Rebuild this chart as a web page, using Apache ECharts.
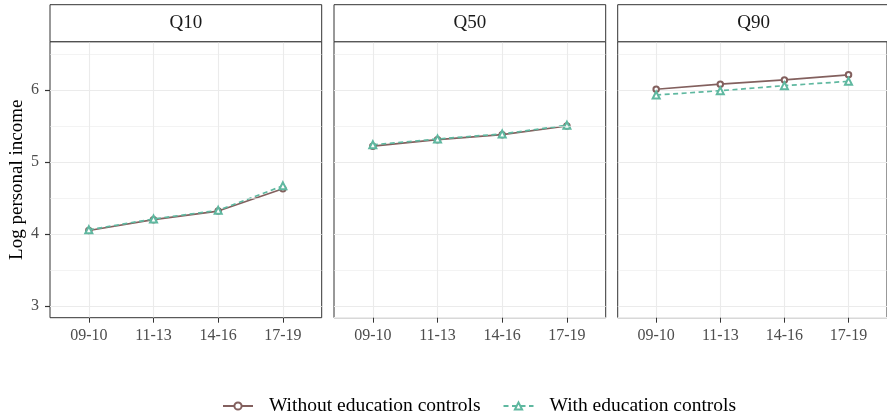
<!DOCTYPE html>
<html>
<head>
<meta charset="utf-8">
<script src="https://cdn.jsdelivr.net/npm/echarts@6/dist/echarts.min.js"></script>
<style>
  html, body { margin: 0; padding: 0; background: #fff; }
  #chart { width: 887px; height: 420px; }
</style>
</head>
<body>
<div id="chart"></div>
<script>
// Period categories on the x axis
const categories = ['09-10', '11-13', '14-16', '17-19'];
// Facet titles (income quantiles)
const panels = ['Q10', 'Q50', 'Q90'];
// Log personal income, model without education controls
const withoutQ10 = [4.05, 4.20, 4.32, 4.63];
const withoutQ50 = [5.22, 5.31, 5.38, 5.50];
const withoutQ90 = [6.01, 6.08, 6.14, 6.21];
// Log personal income, model with education controls
const withQ10 = [4.06, 4.21, 4.33, 4.67];
const withQ50 = [5.24, 5.32, 5.39, 5.51];
const withQ90 = [5.93, 5.99, 6.06, 6.12];
// Y axis ticks and minor grid positions
const yTicks = [3, 4, 5, 6];
const yMinor = [3.5, 4.5, 5.5, 6.5];

const seriesNames = ['Without education controls', 'With education controls'];
const withoutData = [withoutQ10, withoutQ50, withoutQ90];
const withData = [withQ10, withQ50, withQ90];

const FONT = "'Liberation Serif', 'Times New Roman', serif";
const BROWN = '#83605e';
const TEAL = '#5fb8a0';
const GRID_COLOR = '#ebebeb';
const FRAME = '#333333';

const panelLeft = [50, 334, 617.7];
const panelWidth = 271.7;
const panelTop = 41.7;
const panelHeight = 276;
const stripTop = 4.7;
const stripHeight = 37;
const TICK_LEN = 5;
const X_MIN = -0.6, X_MAX = 3.6;

const xIdx = categories.map((c, i) => i);
const toPoints = arr => arr.map((v, i) => [xIdx[i], v]);

const grids = [], xAxes = [], yAxes = [], series = [], graphics = [];

panels.forEach((name, p) => {
  grids.push({
    left: panelLeft[p], top: panelTop, width: panelWidth, height: panelHeight,
    show: true, borderColor: FRAME, borderWidth: 1
  });
  xAxes.push({
    type: 'value', gridIndex: p, min: X_MIN, max: X_MAX,
    axisLine: { show: false, onZero: false },
    axisTick: { show: true, length: TICK_LEN, customValues: xIdx, lineStyle: { color: FRAME, width: 1 } },
    axisLabel: {
      customValues: xIdx, margin: 10, color: '#4d4d4d', fontSize: 16, fontFamily: FONT,
      formatter: v => categories[Math.round(v)]
    },
    splitLine: { show: true, lineStyle: { color: GRID_COLOR, width: 1.1 } }
  });
  const yAxis = {
    type: 'value', gridIndex: p, min: 2.84, max: 6.67,
    axisLine: { show: false, onZero: false },
    axisLabel: { show: false },
    axisTick: { show: false },
    splitLine: { show: true, lineStyle: { color: GRID_COLOR, width: 1.1 } }
  };
  if (p === 0) {
    yAxis.axisTick = { show: true, length: TICK_LEN, customValues: yTicks, lineStyle: { color: FRAME, width: 1 } };
    yAxis.axisLabel = { show: true, customValues: yTicks, margin: 11, color: '#4d4d4d', fontSize: 16, fontFamily: FONT };
    yAxis.name = 'Log personal income';
    yAxis.nameLocation = 'middle';
    yAxis.nameGap = 23;
    yAxis.nameRotate = 90;
    yAxis.nameTextStyle = { color: '#000', fontSize: 19, fontFamily: FONT };
  }
  yAxes.push(yAxis);

  // faint minor horizontal grid
  series.push({
    type: 'line', xAxisIndex: p, yAxisIndex: p, data: [], z: 1, silent: true,
    markLine: {
      silent: true, symbol: 'none', label: { show: false },
      lineStyle: { color: GRID_COLOR, width: 0.6, type: 'solid' },
      emphasis: { disabled: true },
      data: yMinor.map(v => ({ yAxis: v }))
    }
  });

  series.push({
    name: seriesNames[0], type: 'line', xAxisIndex: p, yAxisIndex: p, z: 3,
    data: toPoints(withoutData[p]),
    symbol: 'emptyCircle', symbolSize: 5.5, showSymbol: true,
    lineStyle: { color: BROWN, width: 1.7 },
    itemStyle: { color: BROWN, borderColor: BROWN, borderWidth: 1 },
    emphasis: { disabled: true }
  });
  series.push({
    name: seriesNames[1], type: 'line', xAxisIndex: p, yAxisIndex: p, z: 4,
    data: toPoints(withData[p]),
    symbol: 'emptyTriangle', symbolSize: 7, showSymbol: true,
    lineStyle: { color: TEAL, width: 1.7, type: [5, 3.5] },
    itemStyle: { color: TEAL, borderColor: TEAL, borderWidth: 1 },
    emphasis: { disabled: true }
  });

  // facet strip
  graphics.push({
    type: 'rect', z: 10,
    shape: { x: panelLeft[p], y: stripTop, width: panelWidth, height: stripHeight },
    style: { fill: '#fff', stroke: FRAME, lineWidth: 1 }
  });
  graphics.push({
    type: 'text', z: 11,
    x: panelLeft[p] + panelWidth / 2, y: stripTop + stripHeight / 2,
    style: {
      text: name, fill: '#1a1a1a', font: '19px ' + FONT,
      textAlign: 'center', textVerticalAlign: 'middle'
    }
  });
});

// outward tick marks on the left edge of the first panel, placed by the y scale
series.push({
  type: 'custom', xAxisIndex: 0, yAxisIndex: 0, z: 20, silent: true, clip: false,
  data: yTicks.map(v => [X_MIN, v]),
  renderItem: (params, api) => {
    const pt = api.coord([api.value(0), api.value(1)]);
    const y = Math.round(pt[1]) + 0.5;
    return {
      type: 'line',
      shape: { x1: pt[0] - TICK_LEN, y1: y, x2: pt[0], y2: y },
      style: { stroke: FRAME, lineWidth: 1.2 }
    };
  }
});

const chart = echarts.init(document.getElementById('chart'), null, { renderer: 'canvas' });
chart.setOption({
  animation: false,
  backgroundColor: '#fff',
  grid: grids,
  xAxis: xAxes,
  yAxis: yAxes,
  series: series,
  graphic: graphics,
  legend: {
    data: seriesNames,
    top: 391, left: 217,
    itemWidth: 30, itemHeight: 9, itemGap: 22,
    itemStyle: { borderWidth: 1 },
    textStyle: { fontSize: 19.5, fontFamily: FONT, color: '#000', padding: [0, 0, 0, 11] }
  }
});
</script>
</body>
</html>
